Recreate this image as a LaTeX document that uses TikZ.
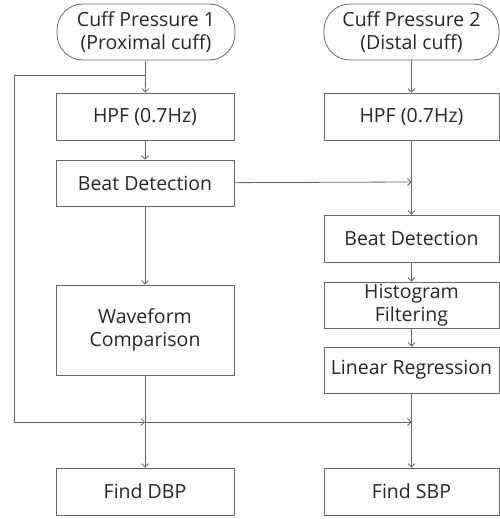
\documentclass[tikz,border=0pt]{standalone}
\usepackage{fontspec}
\setmainfont{Open Sans}
\usetikzlibrary{arrows.meta}

\begin{document}
\begin{tikzpicture}[x=1pt,y=-1pt,
    every node/.style={font=\fontsize{19.5}{23}\selectfont, text=black!85},
    blockbox/.style={draw=black!60, line width=0.8pt, rectangle, align=center, inner sep=0pt},
    termbox/.style={blockbox, rounded corners=26pt},
    flow/.style={draw=black!60, line width=0.8pt, -{Straight Barb[length=3.5pt,width=7pt]}}]

    \useasboundingbox (0,0) rectangle (500,519);

    % nodes (left column)
    \node[termbox, minimum width=178pt, minimum height=56pt] (cuffA) at (146,32) {Cuff Pressure 1\\(Proximal cuff)};
    \node[blockbox, minimum width=178pt, minimum height=47pt] (hpfA) at (145,116.5) {HPF (0.7Hz)};
    \node[blockbox, minimum width=178pt, minimum height=46pt] (beatA) at (145,183) {Beat Detection};
    \node[blockbox, minimum width=178pt, minimum height=90pt] (wave) at (145,330) {Waveform\\Comparison};
    \node[blockbox, minimum width=178pt, minimum height=47pt] (dbp) at (145,491.5) {Find DBP};

    % nodes (right column)
    \node[termbox, minimum width=175pt, minimum height=56pt] (cuffB) at (411.5,32) {Cuff Pressure 2\\(Distal cuff)};
    \node[blockbox, minimum width=175pt, minimum height=47pt] (hpfB) at (411.5,116.5) {HPF (0.7Hz)};
    \node[blockbox, minimum width=175pt, minimum height=47pt] (beatB) at (411.5,238.5) {Beat Detection};
    \node[blockbox, minimum width=175pt, minimum height=46pt] (hist) at (411.5,305) {Histogram\\Filtering};
    \node[blockbox, minimum width=175pt, minimum height=46pt] (linreg) at (411.5,370) {Linear Regression};
    \node[blockbox, minimum width=175pt, minimum height=47pt] (sbp) at (411.5,491.5) {Find SBP};

    % junctions
    \coordinate (splitA) at (145,75);
    \coordinate (joinB) at (411.5,182);
    \coordinate (mergeA) at (145,422);
    \coordinate (mergeB) at (411.5,422);

    % edges
    \draw[flow] (cuffA) -- (hpfA);
    \draw[flow] (splitA) -- ++(-131,0) |- (mergeA); % raw cuff 1 -> bypass
    \draw[flow] (mergeA) -- (mergeB);
    \draw[flow] (hpfA) -- (beatA);
    \draw[flow] (beatA) -- (wave);
    \draw[flow] (wave) -- (dbp);
    \draw[flow] (beatA) -- (joinB); % beats 1 -> right column
    \draw[flow] (cuffB) -- (hpfB);
    \draw[flow] (hpfB) -- (beatB);
    \draw[flow] (beatB) -- (hist);
    \draw[flow] (hist) -- (linreg);
    \draw[flow] (linreg) -- (sbp);

\end{tikzpicture}
\end{document}
